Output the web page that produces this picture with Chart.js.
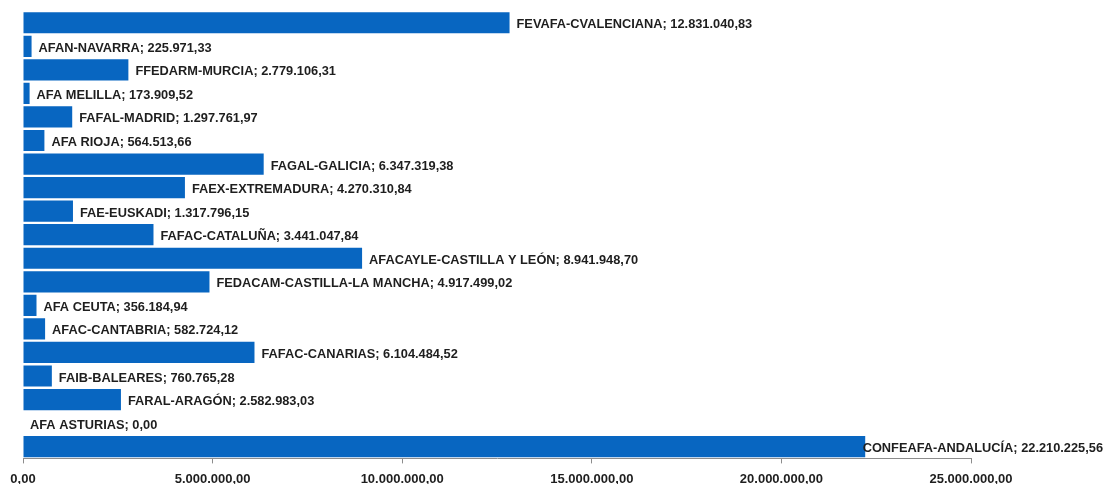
<!DOCTYPE html>
<html>
<head>
<meta charset="utf-8">
<script src="https://cdn.jsdelivr.net/npm/chart.js@4/dist/chart.umd.min.js"></script>
<style>
html,body{margin:0;padding:0;background:#fff;}
#wrap{width:1105px;height:484px;position:relative;}
</style>
</head>
<body>
<div id="wrap"><canvas id="c"></canvas></div>
<script>
const categories = [
  "FEVAFA-CVALENCIANA","AFAN-NAVARRA","FFEDARM-MURCIA","AFA MELILLA","FAFAL-MADRID",
  "AFA RIOJA","FAGAL-GALICIA","FAEX-EXTREMADURA","FAE-EUSKADI","FAFAC-CATALUÑA",
  "AFACAYLE-CASTILLA Y LEÓN","FEDACAM-CASTILLA-LA MANCHA","AFA CEUTA","AFAC-CANTABRIA",
  "FAFAC-CANARIAS","FAIB-BALEARES","FARAL-ARAGÓN","AFA ASTURIAS","CONFEAFA-ANDALUCÍA"
];
const values = [
  12831040.83, 225971.33, 2779106.31, 173909.52, 1297761.97,
  564513.66, 6347319.38, 4270310.84, 1317796.15, 3441047.84,
  8941948.70, 4917499.02, 356184.94, 582724.12,
  6104484.52, 760765.28, 2582983.03, 0.00, 22210225.56
];
const xTicks = [0, 5000000, 10000000, 15000000, 20000000, 25000000];

function fmt(v){
  const s = Math.abs(v).toFixed(2);
  let [i,d] = s.split('.');
  i = i.replace(/\B(?=(\d{3})+(?!\d))/g, '.');
  return i + ',' + d;
}

const FONT = '"Liberation Sans", Arial, sans-serif';

const labelPlugin = {
  id: 'barLabels',
  afterDatasetsDraw(chart){
    const ctx = chart.ctx;
    const meta = chart.getDatasetMeta(0);
    ctx.save();
    ctx.font = 'bold 12.8px ' + FONT;
    ctx.fillStyle = '#1e1e1e';
    ctx.textBaseline = 'middle';
    ctx.textAlign = 'left';
    meta.data.forEach((bar, i) => {
      const txt = categories[i] + '; ' + fmt(values[i]);
      const w = ctx.measureText(txt).width;
      let x = bar.x + 7;
      if (x + w > chart.width - 2) x = chart.width - 2 - w;
      ctx.fillText(txt, x, bar.y + 2);
    });
    ctx.restore();
  }
};

new Chart(document.getElementById('c'), {
  type: 'bar',
  data: {
    labels: categories,
    datasets: [{
      data: values,
      backgroundColor: '#0866c1',
      borderWidth: 0,
      categoryPercentage: 0.9,
      barPercentage: 1.0
    }]
  },
  options: {
    indexAxis: 'y',
    responsive: true,
    maintainAspectRatio: false,
    animation: false,
    layout: { padding: { left: 23, right: 134, top: 11, bottom: -11 } },
    plugins: { legend: { display: false }, tooltip: { enabled: false } },
    scales: {
      y: { display: false },
      x: {
        min: 0, max: 25000000,
        afterBuildTicks(axis){ axis.ticks = xTicks.map(v => ({value: v})); },
        border: { display: true, color: '#8c8c8c', width: 1 },
        grid: { display: true, drawOnChartArea: false, drawTicks: true, tickLength: 5, color: '#8c8c8c' },
        ticks: {
          color: '#1e1e1e',
          font: { family: FONT, size: 13, weight: 'bold' },
          padding: 8,
          maxRotation: 0,
          callback: (v) => fmt(v)
        }
      }
    }
  },
  plugins: [labelPlugin]
});
</script>
</body>
</html>
